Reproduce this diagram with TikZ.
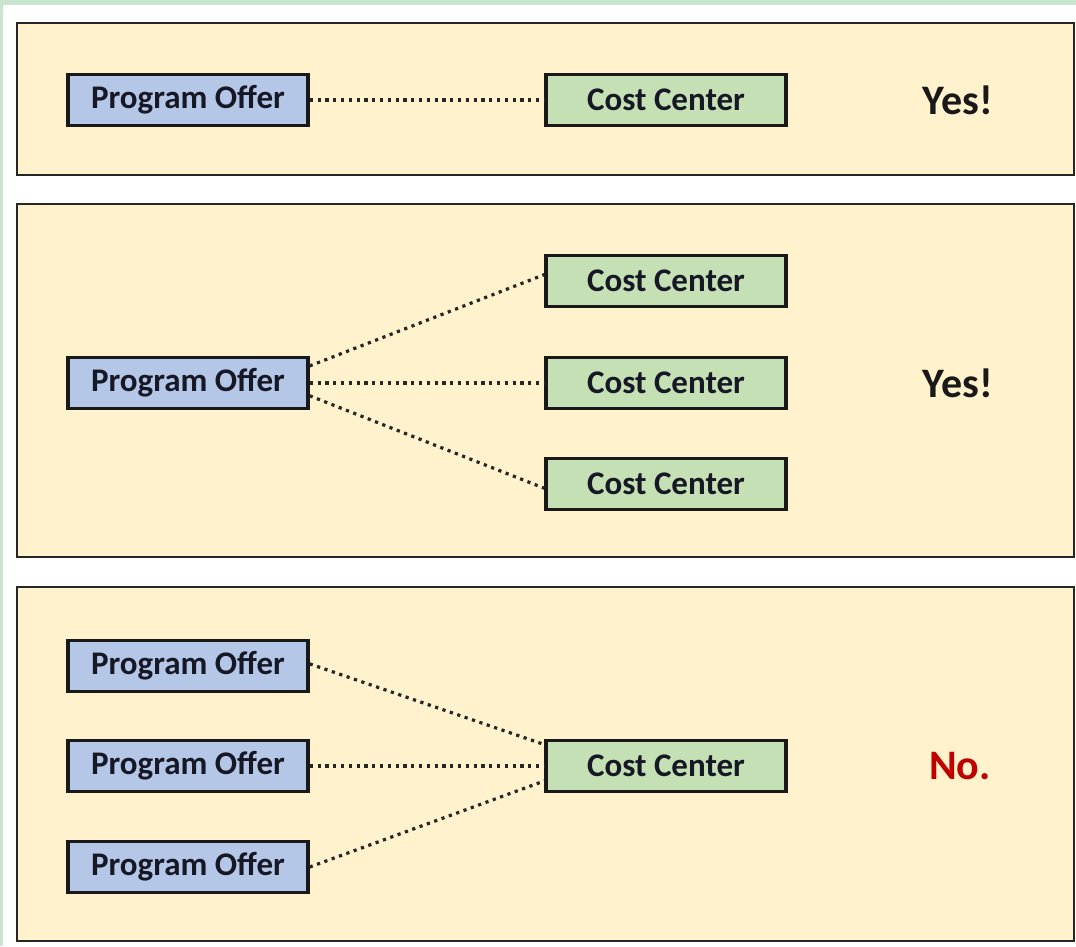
\documentclass[tikz,border=0pt]{standalone}
\usepackage{fontspec}
\setmainfont{Carlito}
\definecolor{outergreen}{RGB}{200,230,206}
\definecolor{panelfill}{RGB}{255,242,204}
\definecolor{pofill}{RGB}{180,199,231}
\definecolor{ccfill}{RGB}{197,224,180}
\definecolor{txtdark}{RGB}{22,24,38}
\definecolor{nored}{RGB}{192,0,0}
\begin{document}
\begin{tikzpicture}[x=1pt,y=-1pt,
  panel/.style={draw=black!85, line width=2.8pt, fill=panelfill},
  boxbase/.style={draw=black!90, line width=3.4pt, minimum width=240pt, minimum height=51pt, inner sep=0pt,
     font=\fontsize{33}{38}\selectfont\bfseries, text=txtdark},
  po/.style={boxbase, fill=pofill},
  cc/.style={boxbase, fill=ccfill},
  verdict/.style={font=\fontsize{42}{48}\selectfont\bfseries, text=black!90, inner sep=0pt},
  link/.style={draw=black!85, line width=3.2pt, dash pattern=on 3.2pt off 4.6pt}
]
\fill[outergreen] (0,0) rectangle (1076,946);
\fill[white] (3,5) rectangle (1076,946);
\useasboundingbox (0,0) rectangle (1076,946);

% panels
\draw[panel] (17,23) rectangle (1074,175);
\draw[panel] (17,204) rectangle (1074,557);
\draw[panel] (17,587) rectangle (1074,941);

% panel 1
\node[po] (p1) at (188,100) {Program Offer};
\node[cc] (c1) at (666,100) {Cost Center};
\node[verdict] (v1) at (958,100) {Yes!};
\draw[link] (p1.east) -- (c1.west);

% panel 2
\node[po] (p2) at (188,383) {Program Offer};
\node[cc] (c2a) at (666,281) {Cost Center};
\node[cc] (c2b) at (666,383) {Cost Center};
\node[cc] (c2c) at (666,484) {Cost Center};
\node[verdict] (v2) at (958,383) {Yes!};
\draw[link] (p2.8) -- (c2a.177);
\draw[link] (p2.east) -- (c2b.west);
\draw[link] (p2.-6) -- (c2c.182);

% panel 3
\node[po] (p3a) at (188,666) {Program Offer};
\node[po] (p3b) at (188,766) {Program Offer};
\node[po] (p3c) at (188,867) {Program Offer};
\node[cc] (c3) at (666,766) {Cost Center};
\node[verdict, text=nored] (v3) at (960,766) {No.};
\draw[link] (p3a.1) -- (c3.170);
\draw[link] (p3b.east) -- (c3.west);
\draw[link] (p3c.0) -- (c3.187);
\end{tikzpicture}
\end{document}
